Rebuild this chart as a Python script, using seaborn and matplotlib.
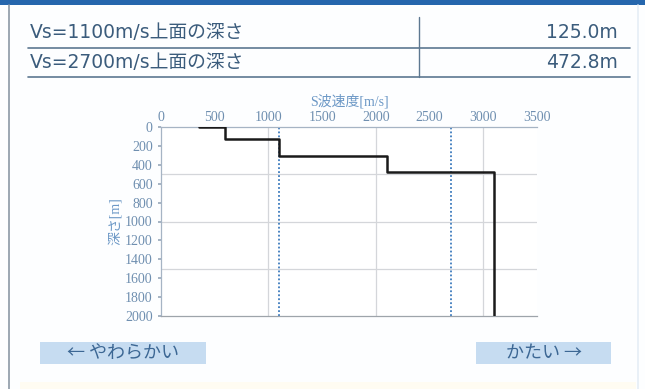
import matplotlib
matplotlib.use("Agg")
import matplotlib.pyplot as plt
from matplotlib.patches import Rectangle
from matplotlib.lines import Line2D
import seaborn as sns
import pandas as pd

# Layered S-wave velocity profile
layer_vs = [350, 600, 1100, 2100, 3100]          # m/s
layer_top = [0, 5, 125.0, 310, 472.8]            # m
max_depth = 2000

# Reference velocities and depths of their upper surfaces
ref_vs = [1100, 2700]
ref_depth = [125.0, 472.8]
table_labels = ["Vs=1100m/s上面の深さ", "Vs=2700m/s上面の深さ"]
table_values = ["125.0m", "472.8m"]

x_ticks = [0, 500, 1000, 1500, 2000, 2500, 3000, 3500]
y_ticks = [0, 200, 400, 600, 800, 1000, 1200, 1400, 1600, 1800, 2000]
x_grid = [1000, 2000, 3000]
y_grid = [500, 1000, 1500]

# Build the staircase: vertical within each layer, horizontal at each boundary
bottoms = layer_top[1:] + [max_depth]
px, py = [], []
for v, t, b in zip(layer_vs, layer_top, bottoms):
    px += [v, v]
    py += [t, b]
profile = pd.DataFrame({"vs": px, "depth": py})

sns.set_theme(style="white")
plt.rcParams["font.family"] = ["Noto Sans CJK JP", "DejaVu Sans"]
serif = ["Liberation Serif", "Noto Sans CJK JP"]
sans = ["DejaVu Sans", "Noto Sans CJK JP"]

W, H = 645, 389
fig = plt.figure(figsize=(W / 100, H / 100), dpi=100)
fig.patch.set_facecolor("#fdfeff")


def fx(x):
    return x / W


def fy(y):
    return 1 - y / H


# Header band and frame edges
fig.add_artist(Rectangle((0, fy(5)), 1, 5 / H, transform=fig.transFigure,
                         facecolor="#2566ad", edgecolor="none"))
fig.add_artist(Line2D([fx(9), fx(9)], [fy(5), 0], transform=fig.transFigure,
                      color="#8c98a6", lw=1.2))
fig.add_artist(Line2D([fx(638), fx(638)], [fy(5), 0], transform=fig.transFigure,
                      color="#e6eef6", lw=1.2))
fig.add_artist(Rectangle((fx(20), 0), fx(616), 7 / H, transform=fig.transFigure,
                         facecolor="#fffcf2", edgecolor="none"))

# Summary table
text_col = "#3b5c7c"
line_col = "#5d7891"
row_y = [32, 63]
line_y = [48, 77]
for lab, val, ty, ly in zip(table_labels, table_values, row_y, line_y):
    fig.text(fx(30), fy(ty), lab, fontsize=13.5, color=text_col,
             ha="left", va="center", family=sans)
    fig.text(fx(618), fy(ty), val, fontsize=13.5, color=text_col,
             ha="right", va="center", family=sans)
    fig.add_artist(Line2D([fx(28), fx(630)], [fy(ly), fy(ly)],
                          transform=fig.transFigure, color=line_col, lw=1.2))
fig.add_artist(Line2D([fx(419), fx(419)], [fy(17), fy(77)],
                      transform=fig.transFigure, color=line_col, lw=1.0))

# Profile chart
ax = fig.add_axes([fx(161), fy(316), fx(537 - 161), (316 - 127) / H])
ax.set_facecolor("white")
for g in x_grid:
    ax.axvline(g, color="#d4d6da", lw=0.9, zorder=0)
for g in y_grid:
    ax.axhline(g, color="#d4d6da", lw=0.9, zorder=0)
for v in ref_vs:
    ax.axvline(v, color="#3d7bbd", lw=1.3, ls=(0, (1, 1.2)), zorder=1)

sns.lineplot(data=profile, x="vs", y="depth", sort=False, estimator=None,
             color="#1a1a1a", lw=1.8, ax=ax, zorder=3)

ax.set_xlim(0, 3500)
ax.set_ylim(max_depth, 0)
ax.xaxis.tick_top()
ax.set_xticks(x_ticks)
ax.set_yticks(y_ticks)
tick_col = "#6f8fb0"
ax.set_xticklabels([str(t) for t in x_ticks], family=serif, fontsize=10,
                   color=tick_col)
ax.set_yticklabels([str(t) for t in y_ticks], family=serif, fontsize=10,
                   color=tick_col)
ax.tick_params(axis="x", length=0, pad=2)
ax.tick_params(axis="y", length=2, pad=4, color="#9aaabb", direction="out",
               left=True)
ax.set_xlabel("")
# Axis title sits just above the top tick labels
fig.text(fx(349), fy(101), "S波速度[m/s]", family=serif, fontsize=10,
         color="#6c98c6", ha="center", va="center")
ax.set_ylabel("深さ[m]", family=serif, fontsize=10, color="#6c98c6",
              labelpad=2)
ax.spines["right"].set_visible(False)
ax.spines["left"].set_color("#a6b4c4")
ax.spines["top"].set_color("#a6b4c4")
ax.spines["bottom"].set_color("#9ea4aa")
for s in ["left", "top", "bottom"]:
    ax.spines[s].set_linewidth(0.9)

# Soft / hard buttons
btn_face = "#c6dcf1"
btn_text = "#3c6794"
for x0, x1, label in [(40, 206, "← やわらかい"), (476, 611, "かたい →")]:
    fig.add_artist(Rectangle((fx(x0), fy(364)), fx(x1 - x0), 22 / H,
                             transform=fig.transFigure, facecolor=btn_face,
                             edgecolor="none"))
    fig.text(fx((x0 + x1) / 2), fy(353), label, fontsize=13, color=btn_text,
             ha="center", va="center")

fig.savefig("out.png", dpi=100, facecolor=fig.get_facecolor())
